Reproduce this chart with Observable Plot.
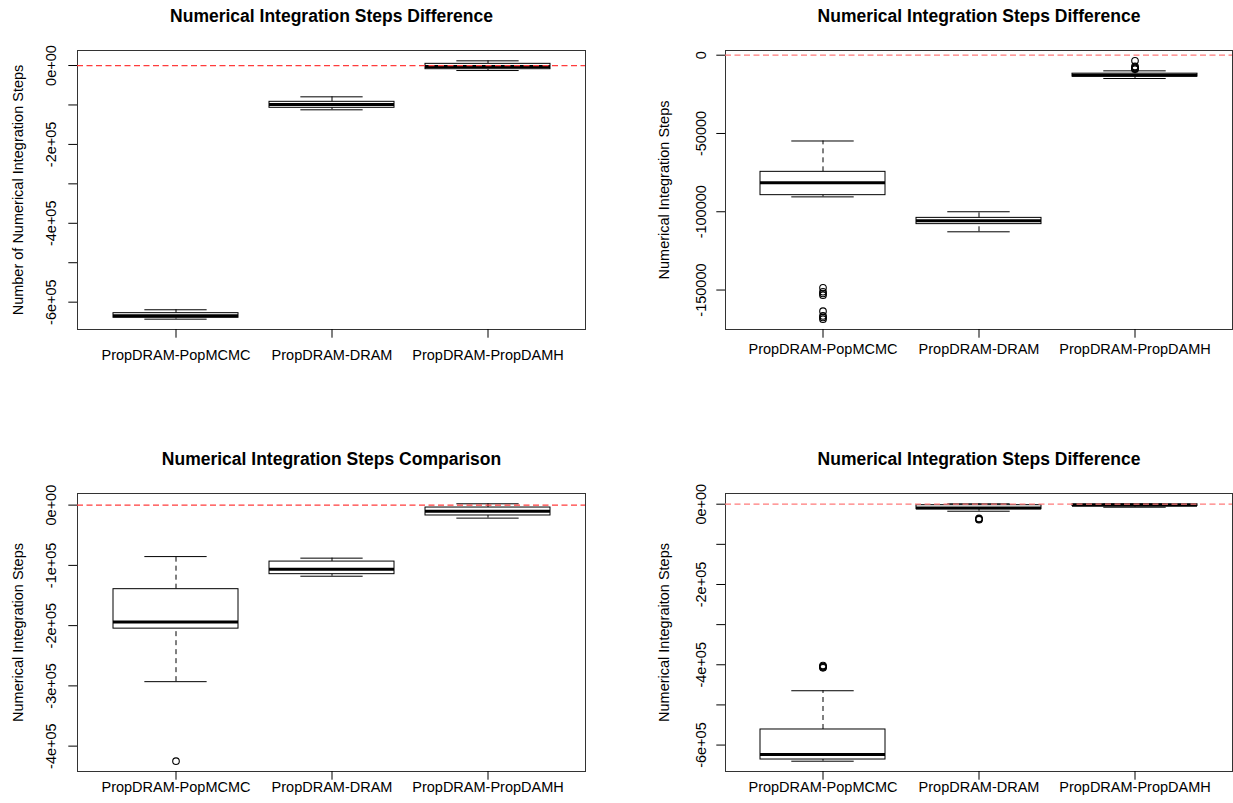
<!DOCTYPE html>
<html>
<head>
<meta charset="utf-8">
<script src="https://cdn.jsdelivr.net/npm/d3@7"></script>
<script src="https://cdn.jsdelivr.net/npm/@observablehq/plot@0.6"></script>
<style>
  body { margin: 0; background: #fff; }
  #figure { position: relative; width: 1233px; height: 803px; background: #fff; overflow: hidden; }
  #figure > .panel { position: absolute; }
</style>
</head>
<body>
<div id="figure"></div>
<script>
// Pairwise comparisons shown on the x axis of every panel
const categories = ["PropDRAM-PopMCMC", "PropDRAM-DRAM", "PropDRAM-PropDAMH"];

// Panel A: "Numerical Integration Steps Difference" (top left)
const aTitle = "Numerical Integration Steps Difference";
const aYLabel = "Number of Numerical Integration Steps";
const aLow    = [-643100, -112300, -12700];
const aQ1     = [-639600, -107200,  -9300];
const aMedian = [-634500,  -98900,  -2500];
const aQ3     = [-627900,  -92000,   4300];
const aHigh   = [-619300,  -79400,  11900];
const aOutliers = [[], [], []];
const aTicks      = [0, -100000, -200000, -300000, -400000, -500000, -600000];
const aTickLabels = ["0e+00", "", "-2e+05", "", "-4e+05", "", "-6e+05"];

// Panel B: "Numerical Integration Steps Difference" (top right)
const bTitle = "Numerical Integration Steps Difference";
const bYLabel = "Numerical Integration Steps";
const bLow    = [-90500, -112800, -14900];
const bQ1     = [-89400, -107900, -13700];
const bMedian = [-81500, -105800, -12800];
const bQ3     = [-74500, -103900, -11800];
const bHigh   = [-54800, -100000, -10000];
const bOutliers = [
  [-148600, -151100, -152200, -153300, -163500, -166500, -167500, -168600],
  [],
  [-3600, -7200, -7900, -8500, -9000]
];
const bTicks      = [0, -50000, -100000, -150000];
const bTickLabels = ["0", "-50000", "-100000", "-150000"];

// Panel C: "Numerical Integration Steps Comparison" (bottom left)
const cTitle = "Numerical Integration Steps Comparison";
const cYLabel = "Numerical Integration Steps";
const cLow    = [-293000, -118000, -21600];
const cQ1     = [-205000, -114600, -17200];
const cMedian = [-193800, -106300, -10000];
const cQ3     = [-139500,  -93700,  -4000];
const cHigh   = [ -85400,  -88000,   2200];
const cOutliers = [[-425000], [], []];
const cTicks      = [0, -100000, -200000, -300000, -400000];
const cTickLabels = ["0e+00", "-1e+05", "-2e+05", "-3e+05", "-4e+05"];

// Panel D: "Numerical Integration Steps Difference" (bottom right)
const dTitle = "Numerical Integration Steps Difference";
const dYLabel = "Numerical Integraiton Steps";
const dLow    = [-640200, -17500, -7500];
const dQ1     = [-636000, -12500, -4500];
const dMedian = [-623500,  -9200, -2500];
const dQ3     = [-561200,  -2500,  -200];
const dHigh   = [-464700,   1000,   800];
const dOutliers = [[-402000, -404500, -405800, -407500], [-35500, -37000, -38500], []];
const dTicks      = [0, -100000, -200000, -300000, -400000, -500000, -600000];
const dTickLabels = ["0e+00", "", "-2e+05", "", "-4e+05", "", "-6e+05"];

const FONT = '"Liberation Sans", Arial, Helvetica, sans-serif';

function boxPanel(p) {
  const rows = categories.map((cat, i) => ({
    cat, low: p.low[i], q1: p.q1[i], median: p.median[i], q3: p.q3[i], high: p.high[i]
  }));
  const outliers = categories.flatMap((cat, i) => p.outliers[i].map(value => ({cat, value})));

  // y range: data extent widened by 4% on each side
  const values = [...p.low, ...p.high, ...outliers.map(d => d.value)];
  const lo = d3.min(values), hi = d3.max(values);
  const pad = 0.04 * (hi - lo);

  const plotWidth = p.width - p.ml - p.mr;
  const step = plotWidth / 3.24;
  const stapleInset = 0.8 * step / 4;
  const labelOf = new Map(p.ticks.map((t, i) => [t, p.tickLabels[i]]));

  const svg = Plot.plot({
    width: p.width,
    height: p.height,
    marginLeft: p.ml,
    marginRight: p.mr,
    marginTop: p.mt,
    marginBottom: p.mb,
    style: {fontFamily: FONT, fontSize: "14.5px", background: "transparent", color: "black", overflow: "visible"},
    x: {type: "band", domain: categories, paddingInner: 0.2, paddingOuter: 0.22, align: 0.5},
    y: {domain: [lo - pad, hi + pad]},
    marks: [
      Plot.ruleX(rows, {x: "cat", y1: "q3", y2: "high", stroke: "black", strokeDasharray: "5,4"}),
      Plot.ruleX(rows, {x: "cat", y1: "low", y2: "q1", stroke: "black", strokeDasharray: "5,4"}),
      Plot.tickY(rows, {x: "cat", y: "high", stroke: "black", insetLeft: stapleInset, insetRight: stapleInset}),
      Plot.tickY(rows, {x: "cat", y: "low", stroke: "black", insetLeft: stapleInset, insetRight: stapleInset}),
      Plot.barY(rows, {x: "cat", y1: "q1", y2: "q3", fill: "white", stroke: "black", inset: 0}),
      Plot.tickY(rows, {x: "cat", y: "median", stroke: "black", strokeWidth: 3}),
      Plot.dot(outliers, {x: "cat", y: "value", r: 3.3, stroke: "black", fill: "none", strokeWidth: 1.1}),
      Plot.frame({stroke: "#333"}),
      Plot.ruleY([0], {stroke: p.refColor, strokeDasharray: "6,3.5", strokeWidth: 1.2}),
      Plot.axisX({tickSize: 8.7, tickPadding: p.xPad, label: null, fontSize: 14.5}),
      Plot.axisY({ticks: p.ticks, tickFormat: d => labelOf.get(d), tickSize: 8.7, tickPadding: p.yPad,
                  tickRotate: -90, label: null, fontSize: 14.5}),
      Plot.text([p.yLabel], {text: d => d, frameAnchor: "left", rotate: -90, dx: -p.yLabelOffset,
                             textAnchor: "middle", lineAnchor: "bottom", fontSize: 14.5}),
      Plot.text([p.title], {text: d => d, frameAnchor: "top", dy: -(p.mt - 21),
                            textAnchor: "middle", lineAnchor: "bottom", fontSize: 17.5, fontWeight: "bold"})
    ]
  });

  const holder = document.createElement("div");
  holder.className = "panel";
  holder.style.left = p.left + "px";
  holder.style.top = p.top + "px";
  holder.appendChild(svg);
  document.getElementById("figure").appendChild(holder);
}

boxPanel({title: aTitle, yLabel: aYLabel, low: aLow, q1: aQ1, median: aMedian, q3: aQ3, high: aHigh,
  outliers: aOutliers, ticks: aTicks, tickLabels: aTickLabels,
  left: 0, top: 0, width: 616, height: 400, ml: 77, mr: 31, mt: 50, mb: 71,
  xPad: 12, yPad: 13.3, yLabelOffset: 55, refColor: "#ff3c3c"});

boxPanel({title: bTitle, yLabel: bYLabel, low: bLow, q1: bQ1, median: bMedian, q3: bQ3, high: bHigh,
  outliers: bOutliers, ticks: bTicks, tickLabels: bTickLabels,
  left: 616, top: 0, width: 617, height: 400, ml: 109, mr: 1, mt: 50, mb: 71,
  xPad: 6, yPad: 10.8, yLabelOffset: 57, refColor: "#ff7b7b"});

boxPanel({title: cTitle, yLabel: cYLabel, low: cLow, q1: cQ1, median: cMedian, q3: cQ3, high: cHigh,
  outliers: cOutliers, ticks: cTicks, tickLabels: cTickLabels,
  left: 0, top: 443, width: 616, height: 360, ml: 77, mr: 31, mt: 50, mb: 32,
  xPad: 2, yPad: 13.3, yLabelOffset: 55, refColor: "#ff3c3c"});

boxPanel({title: dTitle, yLabel: dYLabel, low: dLow, q1: dQ1, median: dMedian, q3: dQ3, high: dHigh,
  outliers: dOutliers, ticks: dTicks, tickLabels: dTickLabels,
  left: 616, top: 443, width: 617, height: 360, ml: 109, mr: 1, mt: 50, mb: 32,
  xPad: 2, yPad: 10.8, yLabelOffset: 57, refColor: "#ff7b7b"});
</script>
</body>
</html>
